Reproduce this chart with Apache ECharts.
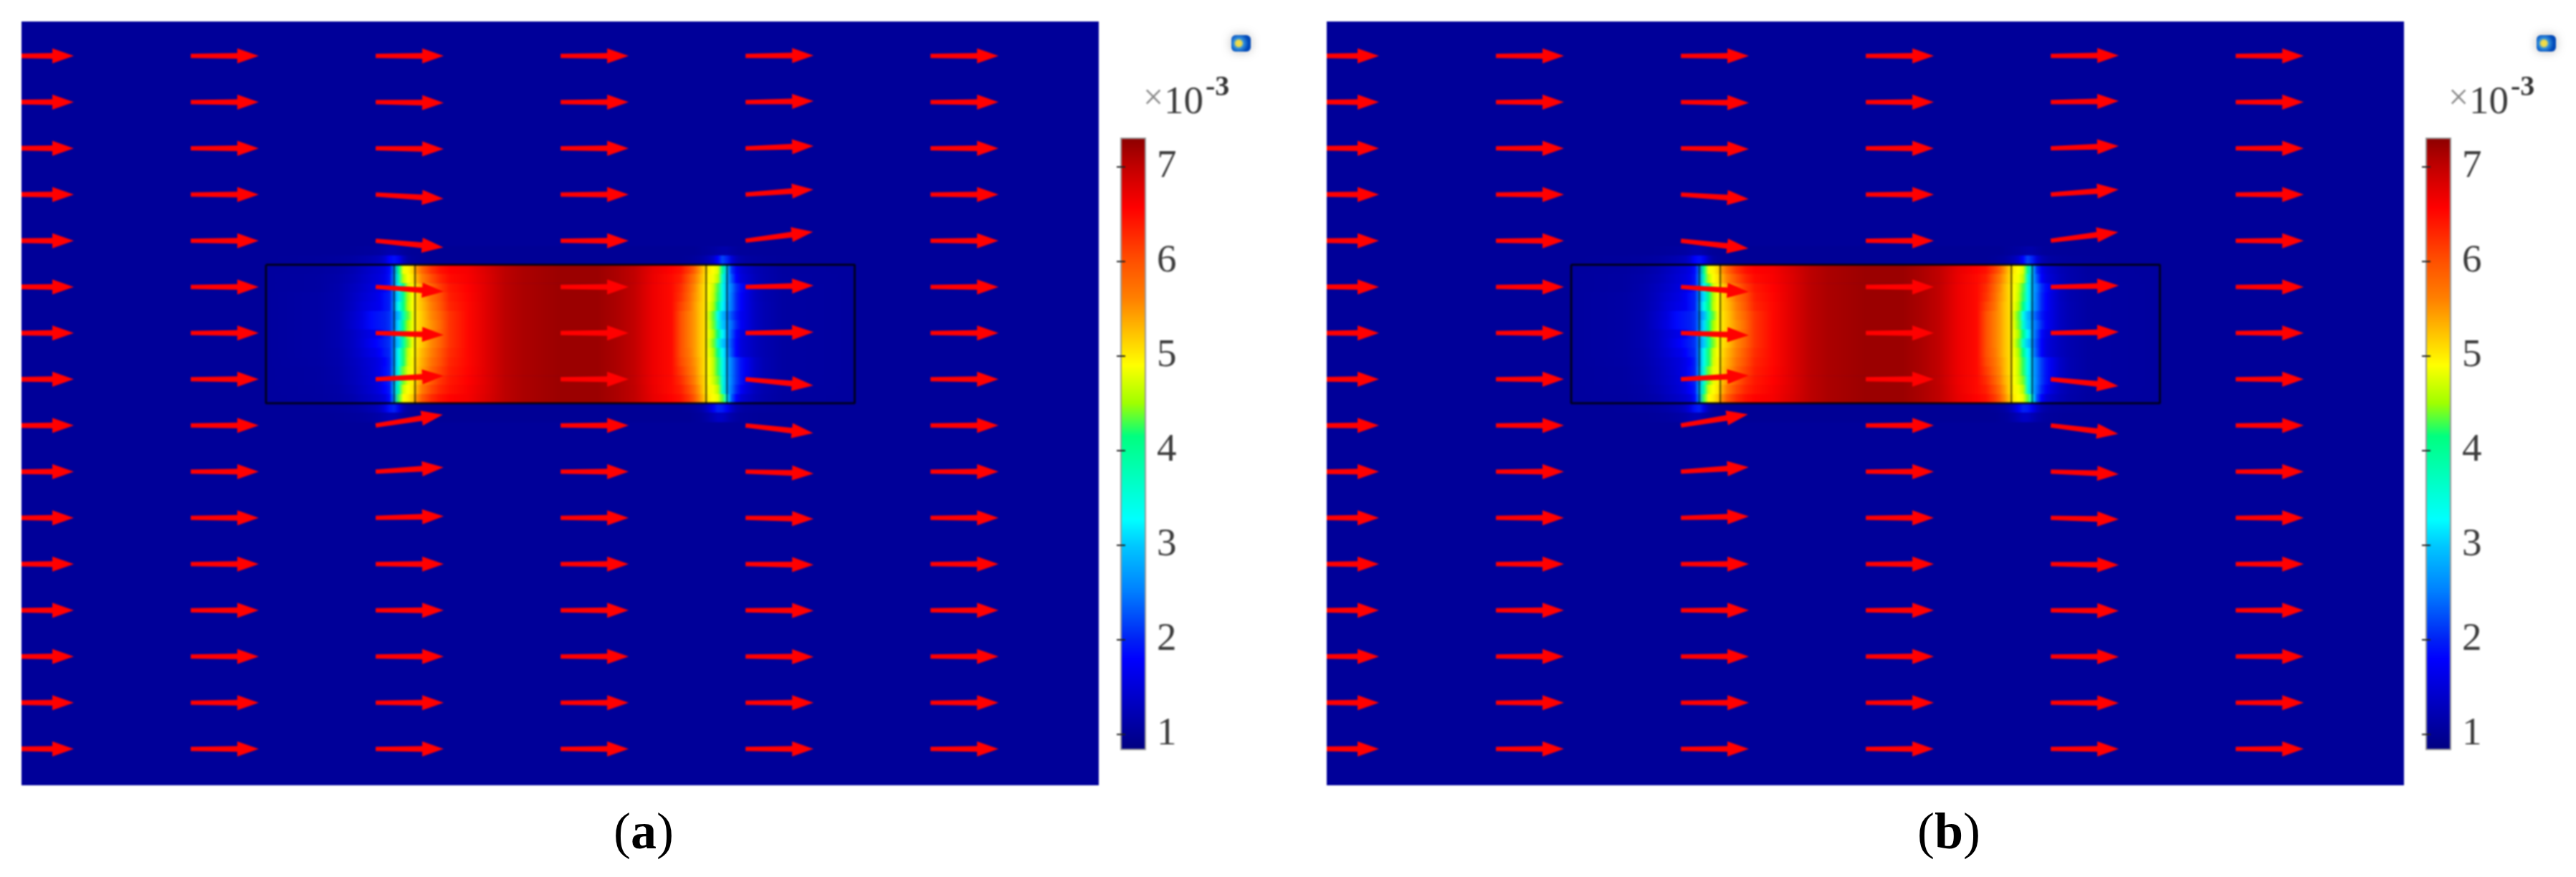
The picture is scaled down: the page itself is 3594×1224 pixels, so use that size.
<!DOCTYPE html>
<html>
<head>
<meta charset="UTF-8">
<title>field</title>
<script src="https://cdn.jsdelivr.net/npm/echarts@6/dist/echarts.min.js"></script>
<style>
  html, body { margin: 0; padding: 0; background: #fff; }
  #chart { position: absolute; left: 0; top: 0; width: 3594px; height: 1100px; filter: blur(1.3px); }
  #captions { position: absolute; left: 0; top: 1100px; width: 3594px; height: 124px; }
</style>
</head>
<body>
<div id="chart"></div>
<div id="captions"></div>
<script type="text/javascript">
// arrows: 16 rows x 6 columns, model units are mm
var arrowRows = [0, 2.5, 5, 7.5, 10, 12.5, 15, 17.5, 20, 22.5, 25, 27.5, 30, 32.5, 35, 37.5];
var arrowCols = [0, 10, 20, 30, 40, 50];
// how far each arrow tip sits below its tail
var arrowRiseA = [
  [0, 0, 0, 0, -0.02, 0],
  [0, 0, 0.04, 0, -0.06, 0],
  [0, 0, 0.04, 0, -0.12, 0],
  [0, 0, 0.23, 0, -0.27, 0],
  [0, 0, 0.36, 0, -0.48, 0],
  [0, 0, 0.26, 0, -0.07, 0],
  [0, 0, 0.10, 0, -0.05, 0],
  [0, 0, -0.19, 0, 0.34, 0],
  [0, 0, -0.58, 0, 0.41, 0],
  [0, 0, -0.23, 0, 0.10, 0],
  [0, 0, -0.09, 0, 0.06, 0],
  [0, 0, 0, 0, 0.04, 0],
  [0, 0, 0, 0, 0.02, 0],
  [0, 0, 0, 0, 0.02, 0],
  [0, 0, 0, 0, 0, 0],
  [0, 0, 0, 0, 0, 0]
];
var arrowRiseB = [
  [0, 0, 0, 0, -0.02, 0],
  [0, 0, 0.04, 0, -0.06, 0],
  [0, 0, 0.04, 0, -0.12, 0],
  [0, 0, 0.25, 0, -0.27, 0],
  [0, 0, 0.42, 0, -0.46, 0],
  [0, 0, 0.28, 0, -0.07, 0],
  [0, 0, 0.12, 0, -0.06, 0],
  [0, 0, -0.21, 0, 0.36, 0],
  [0, 0, -0.60, 0, 0.45, 0],
  [0, 0, -0.24, 0, 0.13, 0],
  [0, 0, -0.08, 0, 0.08, 0],
  [0, 0, 0, 0, 0.05, 0],
  [0, 0, 0, 0, 0.03, 0],
  [0, 0, 0, 0, 0.02, 0],
  [0, 0, 0, 0, 0.02, 0],
  [0, 0, 0, 0, 0, 0]
];

// field sampled along x (mm) for bands of y (mm); values are x10^-3
var fieldX = [14.07, 17, 18, 18.75, 19.25, 19.75, 20, 20.25, 20.5, 20.75, 21, 21.25, 21.5, 21.75, 22, 22.25, 22.5, 23, 23.5, 24,
  25, 26, 27, 28, 30, 32, 33, 34, 35, 36,
  36.5, 37, 37.25, 37.5, 37.75, 38, 38.25, 38.5, 38.75, 39, 39.25, 39.5, 39.75, 40, 40.5, 41, 42, 45.9];
var fieldY = [10.3, 10.8, 11.3, 11.8, 12.3, 12.8, 13.3, 13.8, 14.3, 14.8, 15.3, 15.8, 16.3, 16.8, 17.3, 17.8, 18.3, 18.8, 19.3, 19.8];
var fieldValues = [
  [1.03,1.03,1.03,1.04,1.05,1.07,1.08,1.1,1.14,1.18,1.18,1.12,1.06,1.03,1.02,1.02,1.01,1,1,1, 1,1,1,1,1,1,1,1,1,1, 1,1,1,1.02,1.04,1.06,1.08,1.12,1.16,1.16,1.1,1.06,1.04,1.04,1.03,1.03,1.03,1.03],
  [1.03,1.05,1.07,1.1,1.15,1.2,1.25,1.3,1.45,1.8,1.9,1.7,1.3,1.1,1.05,1.03,1.02,1,1,1, 1,1,1,1,1,1,1,1,1,1, 1,1.02,1.05,1.08,1.15,1.25,1.4,1.8,2.2,2,1.5,1.25,1.15,1.1,1.07,1.05,1.04,1.03],
  [1.07,1.08,1.12,1.2,1.3,1.4,1.45,1.5,1.6,1.85,2.5,4.1,4.85,4.95,5.15,5.5,5.8,6.2,6.45,6.56, 6.62,6.82,7.02,7.12,7.21,7.21,7.12,6.99,6.72,6.55, 6.45,6.1,5.85,5.5,5.2,5,4.9,4.75,4,3,2.1,1.7,1.5,1.4,1.25,1.17,1.08,1.07],
  [1.07,1.1,1.15,1.25,1.35,1.45,1.5,1.55,1.65,1.9,2.6,3.8,4.6,4.9,5.05,5.35,5.6,6,6.3,6.5, 6.6,6.8,7.02,7.12,7.21,7.21,7.12,6.99,6.7,6.5, 6.35,5.9,5.65,5.4,5.15,4.95,4.85,4.6,3.6,2.9,2.3,1.8,1.55,1.45,1.28,1.18,1.09,1.07],
  [1.07,1.1,1.17,1.3,1.4,1.5,1.55,1.6,1.75,1.95,2.6,3.3,4.1,4.7,4.95,5.15,5.4,5.8,6.15,6.4, 6.56,6.78,7.02,7.12,7.21,7.21,7.12,6.98,6.68,6.5, 6.25,5.8,5.55,5.3,5.1,4.9,4.7,4.3,3.4,2.85,2.5,2.1,1.85,1.65,1.35,1.2,1.1,1.07],
  [1.07,1.12,1.18,1.33,1.45,1.55,1.6,1.7,1.9,2,2.6,3.1,4.05,4.55,4.9,5.1,5.3,5.7,6,6.35, 6.54,6.78,7.02,7.12,7.21,7.21,7.12,6.98,6.68,6.5, 6.2,5.75,5.5,5.3,5.1,4.9,4.65,4.25,3.4,2.85,2.45,2.05,1.8,1.6,1.33,1.2,1.1,1.07],
  [1.07,1.12,1.19,1.35,1.5,1.6,1.65,1.7,1.9,2,2.7,3.4,4.15,4.6,4.9,5.1,5.25,5.6,5.95,6.3, 6.52,6.78,7.02,7.12,7.21,7.21,7.12,6.98,6.68,6.5, 6.1,5.7,5.45,5.25,5.1,4.85,4.55,4.1,3.25,2.8,2.45,2.05,1.8,1.6,1.35,1.22,1.1,1.07],
  [1.07,1.12,1.2,1.4,1.55,1.85,1.9,1.95,2,2.1,2.5,2.9,3.8,4.35,4.85,5.05,5.2,5.55,5.85,6.2, 6.52,6.78,7.02,7.12,7.21,7.21,7.12,6.98,6.68,6.5, 6,5.6,5.45,5.25,5.1,4.75,4.35,3.4,2.9,2.6,2.25,1.95,1.7,1.6,1.35,1.22,1.1,1.07],
  [1.07,1.12,1.2,1.42,1.58,1.85,1.9,1.95,2,2.1,2.55,3.1,4.05,4.5,4.85,5.05,5.2,5.5,5.8,6.2, 6.52,6.78,7.02,7.12,7.21,7.21,7.12,6.98,6.68,6.5, 6,5.6,5.45,5.25,5.1,4.8,4.4,3.6,3,2.7,2.4,2.05,1.75,1.6,1.35,1.22,1.1,1.07],
  [1.07,1.12,1.2,1.35,1.48,1.6,1.65,1.75,1.95,2.05,2.7,3.1,4.1,4.6,4.9,5.1,5.25,5.55,5.85,6.2, 6.52,6.78,7.02,7.12,7.21,7.21,7.12,6.98,6.68,6.5, 6,5.6,5.45,5.25,5.1,4.85,4.55,4.1,3.25,2.75,2.3,1.85,1.6,1.5,1.3,1.2,1.1,1.07],
  [1.07,1.12,1.2,1.35,1.5,1.7,1.8,1.9,2,2.1,2.6,3,3.9,4.4,4.85,5.05,5.2,5.55,5.85,6.2, 6.52,6.78,7.02,7.12,7.21,7.21,7.12,6.98,6.68,6.5, 6,5.6,5.45,5.25,5.1,4.8,4.4,3.6,3,2.65,2.2,1.8,1.55,1.45,1.3,1.2,1.1,1.07],
  [1.07,1.12,1.18,1.33,1.45,1.6,1.65,1.8,1.95,2.05,2.7,3.4,4.2,4.65,4.9,5.1,5.3,5.6,5.95,6.25, 6.52,6.78,7.02,7.12,7.21,7.21,7.12,6.98,6.68,6.5, 6,5.65,5.45,5.25,5.1,4.85,4.55,4.1,3.25,2.75,2.25,1.8,1.55,1.45,1.3,1.2,1.1,1.07],
  [1.07,1.11,1.17,1.3,1.4,1.5,1.55,1.65,1.8,2,2.7,3.4,4.2,4.7,4.95,5.15,5.35,5.7,6,6.3, 6.52,6.78,7.02,7.12,7.21,7.21,7.12,6.98,6.68,6.5, 6.05,5.7,5.5,5.3,5.1,4.9,4.65,4.25,3.4,2.85,2.5,2.15,1.9,1.7,1.38,1.22,1.1,1.07],
  [1.07,1.1,1.16,1.28,1.38,1.48,1.55,1.65,1.85,2,2.8,3.6,4.4,4.8,4.95,5.2,5.4,5.8,6.1,6.35, 6.54,6.78,7.02,7.12,7.21,7.21,7.12,6.98,6.68,6.5, 6.15,5.75,5.55,5.3,5.1,4.9,4.65,4.25,3.4,2.85,2.5,2.15,1.9,1.7,1.38,1.22,1.1,1.07],
  [1.07,1.1,1.15,1.27,1.36,1.47,1.52,1.62,1.85,2,2.8,3.6,4.4,4.8,5,5.25,5.5,5.9,6.2,6.4, 6.56,6.78,7.02,7.12,7.21,7.21,7.12,6.98,6.68,6.5, 6.25,5.85,5.6,5.35,5.15,4.9,4.7,4.4,3.5,2.9,2.5,2.15,1.9,1.65,1.35,1.2,1.1,1.07],
  [1.07,1.09,1.13,1.23,1.33,1.43,1.5,1.6,1.8,1.95,2.9,3.9,4.7,4.9,5.05,5.35,5.65,6.05,6.3,6.45, 6.6,6.8,7.02,7.12,7.21,7.21,7.12,6.99,6.7,6.5, 6.35,6,5.75,5.45,5.15,4.95,4.85,4.6,3.6,2.9,2.45,2.05,1.75,1.55,1.3,1.18,1.09,1.07],
  [1.07,1.08,1.11,1.18,1.27,1.35,1.4,1.45,1.55,1.85,2.7,4.3,4.9,5,5.2,5.55,5.9,6.25,6.45,6.55, 6.62,6.82,7.02,7.12,7.21,7.21,7.12,6.99,6.72,6.55, 6.45,6.15,5.9,5.55,5.25,5,4.9,4.8,4.35,3.3,2.3,1.8,1.5,1.4,1.25,1.16,1.08,1.07],
  [1.03,1.04,1.06,1.09,1.13,1.2,1.25,1.35,1.55,1.9,2,1.6,1.2,1.06,1.03,1.02,1.01,1,1,1, 1,1,1,1,1,1,1,1,1,1, 1,1.02,1.05,1.1,1.2,1.4,1.7,2,1.95,1.7,1.4,1.2,1.12,1.08,1.06,1.05,1.04,1.03],
  [1.03,1.03,1.04,1.05,1.07,1.1,1.12,1.15,1.2,1.25,1.25,1.15,1.08,1.04,1.02,1.01,1.01,1,1,1, 1,1,1,1,1,1,1,1,1,1, 1,1,1.02,1.04,1.08,1.15,1.25,1.35,1.35,1.25,1.15,1.1,1.06,1.05,1.04,1.03,1.03,1.03]
];

// outline of the sample and the two inner interfaces
var boxX = [14.07, 45.9];
var boxY = [11.3, 18.8];
var interfaceX = [21, 22.13, 37.87, 39];

// colour bar
var barMin = 0.84;
var barMax = 7.3;
var barTicks = [1, 2, 3, 4, 5, 6, 7];
var colorValues = [0.84, 1.8, 2, 2.52, 3, 3.27, 4.15, 4.5, 4.9, 5.25, 5.6, 6, 6.56, 7, 7.3];
var colorHexes = ['#000080', '#0000ff', '#0020f5', '#0080ff', '#00c8ff', '#00ffff', '#00ff80', '#a0ff00', '#ffff00', '#ffc000', '#ff8000', '#ff5000', '#ff0000', '#c00000', '#8b0000'];

function valueColor(v) {
    for (var i = 1; i < colorValues.length; i++) {
        if (v <= colorValues[i]) {
            var t = (v - colorValues[i - 1]) / (colorValues[i] - colorValues[i - 1]);
            return echarts.color.lerp(Math.max(t, 0), [colorHexes[i - 1], colorHexes[i]]);
        }
    }
    return colorHexes[colorHexes.length - 1];
}

function fieldSeries(xi, yi) {
    var bands = [];
    for (var r = 0; r < fieldValues.length; r++) {
        bands.push([fieldX[0], fieldY[r], fieldX[fieldX.length - 1], fieldY[r + 1]]);
    }
    return {
        type: 'custom', xAxisIndex: xi, yAxisIndex: yi, z: 1, silent: true, data: bands,
        renderItem: function (params, api) {
            var a = api.coord([api.value(0), api.value(1)]);
            var b = api.coord([api.value(2), api.value(3)]);
            var row = fieldValues[params.dataIndex];
            var stops = row.map(function (v, i) {
                return { offset: (fieldX[i] - fieldX[0]) / (fieldX[fieldX.length - 1] - fieldX[0]), color: valueColor(v) };
            });
            return {
                type: 'rect',
                shape: { x: a[0], y: a[1], width: b[0] - a[0], height: b[1] - a[1] + 0.6 },
                style: { fill: new echarts.graphic.LinearGradient(0, 0, 1, 0, stops) }
            };
        }
    };
}

function arrowSeries(xi, yi, rises) {
    var items = [];
    arrowRows.forEach(function (y, r) {
        arrowCols.forEach(function (x, c) {
            items.push([x, y, rises[r][c]]);
        });
    });
    return {
        type: 'custom', xAxisIndex: xi, yAxisIndex: yi, z: 5, clip: true, silent: true, data: items,
        renderItem: function (params, api) {
            var len = 3.68;
            var rise = api.value(2);
            var p0 = api.coord([api.value(0), api.value(1)]);
            var p1 = api.coord([api.value(0) + Math.sqrt(len * len - rise * rise), api.value(1) + rise]);
            var dx = p1[0] - p0[0], dy = p1[1] - p0[1];
            var d = Math.sqrt(dx * dx + dy * dy);
            var ux = dx / d, uy = dy / d;
            var at = function (along, side) {
                return [p0[0] + ux * along - uy * side, p0[1] + uy * along + ux * side];
            };
            var base = d - 30;
            return {
                type: 'polygon',
                shape: { points: [at(0, -3), at(base, -4), at(base, -10.5), at(d, 0), at(base, 10.5), at(base, 4), at(0, 3)] },
                style: { fill: '#ff0000' }
            };
        }
    };
}

function outlineSeries(xi, yi) {
    var out = [{
        type: 'line', xAxisIndex: xi, yAxisIndex: yi, z: 3, symbol: 'none', silent: true,
        lineStyle: { color: '#000', width: 3, opacity: 0.8 },
        data: [[boxX[0], boxY[0]], [boxX[1], boxY[0]], [boxX[1], boxY[1]], [boxX[0], boxY[1]], [boxX[0], boxY[0]]]
    }];
    interfaceX.forEach(function (x) {
        out.push({
            type: 'line', xAxisIndex: xi, yAxisIndex: yi, z: 3, symbol: 'none', silent: true,
            lineStyle: { color: '#000', width: 2.5, opacity: 0.55 },
            data: [[x, boxY[0]], [x, boxY[1]]]
        });
    });
    return out;
}

function barSeries(xi, yi) {
    return {
        type: 'custom', xAxisIndex: xi, yAxisIndex: yi, z: 1, silent: true,
        data: [[0, barMax, 1, barMin]],
        renderItem: function (params, api) {
            var a = api.coord([api.value(0), api.value(1)]);
            var b = api.coord([api.value(2), api.value(3)]);
            var stops = colorValues.map(function (v, i) {
                return { offset: (barMax - v) / (barMax - barMin), color: colorHexes[i] };
            }).reverse();
            return {
                type: 'rect',
                shape: { x: a[0], y: a[1], width: b[0] - a[0], height: b[1] - a[1] },
                style: { fill: new echarts.graphic.LinearGradient(0, 0, 0, 1, stops), stroke: '#999', lineWidth: 2 }
            };
        }
    };
}

var panelLeft = [30, 1851];
var grids = [], xAxes = [], yAxes = [], series = [], graphics = [];
var labelFont = 'Liberation Serif';

panelLeft.forEach(function (left, p) {
    var off = left - panelLeft[0];
    var xPlot = xAxes.length, yPlot = yAxes.length;
    grids.push({ left: left, top: 30, width: 1503, height: 1066, show: true, backgroundColor: '#000099', borderWidth: 0 });
    xAxes.push({ gridIndex: grids.length - 1, type: 'value', min: 0.85, max: 59.1, show: false });
    yAxes.push({ gridIndex: grids.length - 1, type: 'value', min: -1.86, max: 39.47, inverse: true, show: false });

    grids.push({ left: 1564 + off, top: 193, width: 34, height: 853 });
    var xBar = xAxes.length;
    xAxes.push({ gridIndex: grids.length - 1, type: 'value', min: 0, max: 1, show: false });
    var yBar = yAxes.length;
    yAxes.push({
        gridIndex: grids.length - 1, type: 'value', position: 'right', min: barMin, max: barMax, z: 4,
        splitLine: { show: false },
        axisLine: { show: false },
        axisTick: { show: true, inside: true, length: 6, customValues: barTicks, lineStyle: { color: '#222', width: 2 } },
        axisLabel: {
            show: true, customValues: barTicks, margin: 16, color: '#3a3a3a',
            fontFamily: labelFont, fontSize: 55
        }
    });
    yAxes.push({
        gridIndex: grids.length - 1, type: 'value', position: 'left', min: barMin, max: barMax, z: 4,
        splitLine: { show: false },
        axisLine: { show: false },
        axisTick: { show: true, inside: true, length: 6, customValues: barTicks, lineStyle: { color: '#222', width: 2 } },
        axisLabel: { show: false }
    });

    series.push(fieldSeries(xPlot, yPlot));
    series = series.concat(outlineSeries(xPlot, yPlot));
    series.push(arrowSeries(xPlot, yPlot, p === 0 ? arrowRiseA : arrowRiseB));
    series.push(barSeries(xBar, yBar));

    graphics.push(
        { type: 'text', x: 1595 + off, y: 164, style: { text: '×', fontFamily: labelFont, fontSize: 50, fill: '#8a8a8a', verticalAlign: 'bottom' } },
        { type: 'text', x: 1624 + off, y: 171, style: { text: '10', fontFamily: labelFont, fontSize: 55, fill: '#3a3a3a', verticalAlign: 'bottom' } },
        { type: 'text', x: 1682 + off, y: 143, style: { text: '-3', fontFamily: labelFont, fontSize: 40, fontWeight: 'bold', fill: '#333', verticalAlign: 'bottom' } },
        {
            type: 'rect', x: 1718 + off, y: 49,
            shape: { width: 27, height: 23, r: 6 },
            style: {
                fill: new echarts.graphic.RadialGradient(0.38, 0.5, 0.6, [
                    { offset: 0, color: '#f8e040' }, { offset: 0.3, color: '#e8d850' },
                    { offset: 0.5, color: '#3090e0' }, { offset: 1, color: '#0048b8' }
                ]),
                shadowBlur: 14, shadowColor: 'rgba(120,120,120,0.5)'
            }
        }
    );
});

var myChart = echarts.init(document.getElementById('chart'));
myChart.setOption({
    animation: false,
    backgroundColor: '#fff',
    grid: grids,
    xAxis: xAxes,
    yAxis: yAxes,
    series: series,
    graphic: graphics
});

// captions stay sharp, so they get their own canvas
var captionText = {
    fontWeight: 'normal',
    rich: {
        p: { fontFamily: 'Liberation Serif', fontSize: 72, fontWeight: 'normal', color: '#000' },
        b: { fontFamily: 'Liberation Serif', fontSize: 72, fontWeight: 'bold', color: '#000' }
    }
};
var captionChart = echarts.init(document.getElementById('captions'));
captionChart.setOption({
    animation: false,
    title: [
        { text: '{p|(}{b|a}{p|)}', left: 893, top: 24, textAlign: 'center', textStyle: captionText },
        { text: '{p|(}{b|b}{p|)}', left: 2714, top: 24, textAlign: 'center', textStyle: captionText }
    ]
});
</script>
</body>
</html>
